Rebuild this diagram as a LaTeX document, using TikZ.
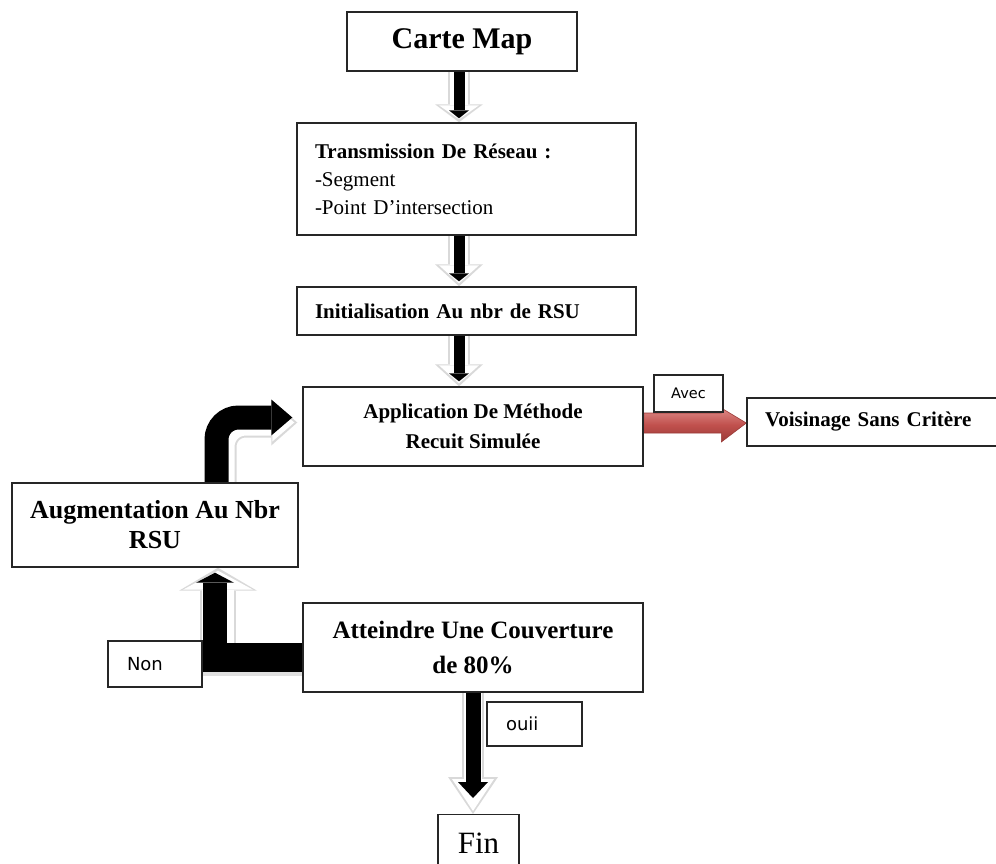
\documentclass[tikz,border=0pt]{standalone}
\usepackage{fontspec}
\setmainfont{Liberation Serif}
\newfontfamily\tahoma{DejaVu Sans}
\usetikzlibrary{arrows.meta,calc,backgrounds}
\definecolor{redL}{HTML}{DE8A87}
\definecolor{redM}{HTML}{C0504D}
\definecolor{redD}{HTML}{9A3A37}
\begin{document}
\begin{tikzpicture}[x=1pt,y=-1pt,
  box/.style={draw=black!85, line width=1.4pt, fill=white, inner sep=0pt},
  gout/.style n args={3}{color=gray!30, line width=#1, -{Triangle[width=#2,length=#3,line width=0pt]}},
  gin/.style n args={3}{color=white, line width=#1, shorten >=3pt, -{Triangle[width=#2,length=#3,line width=0pt]}},
  blk/.style n args={3}{color=black, line width=#1, -{Triangle[width=#2,length=#3,line width=0pt]}},
  redarr/.style={top color=redL, bottom color=redD, middle color=redM, draw=redD, line width=0.6pt},
]
\useasboundingbox (0,0) rectangle (996,863);
\clip (0,0) rectangle (996,863);

% nodes
\node[box, minimum width=230pt, minimum height=59pt, font=\bfseries\fontsize{30}{34}\selectfont] (carte) at (462,41.5) {Carte Map};
\node[box, minimum width=339pt, minimum height=112pt, text width=303pt, align=left, inner xsep=18pt, font=\fontsize{21}{28}\selectfont] (trans) at (466.5,179) {\textbf{Transmission De Réseau :}\\-Segment\\-Point D’intersection};
\node[box, minimum width=339pt, minimum height=48pt, text width=303pt, align=left, inner xsep=18pt, font=\bfseries\fontsize{21}{26}\selectfont] (init) at (466.5,311) {Initialisation Au nbr de RSU};
\node[box, minimum width=340pt, minimum height=79pt, align=center, font=\bfseries\fontsize{21}{30}\selectfont] (app) at (473,426.5) {Application De Méthode\\Recuit Simulée};
\node[box, minimum width=69pt, minimum height=37pt, font=\tahoma\fontsize{14.5}{17}\selectfont] (avec) at (688.5,393.5) {Avec};
\node[box, minimum width=263pt, minimum height=48pt, text width=227pt, align=left, inner xsep=18pt, font=\bfseries\fontsize{21}{26}\selectfont] (vois) at (878.5,422) {Voisinage Sans Critère};
\node[box, minimum width=286pt, minimum height=84pt, align=center, font=\bfseries\fontsize{26}{30}\selectfont] (aug) at (155,525) {Augmentation Au Nbr\\RSU};
\node[box, minimum width=340pt, minimum height=89pt, align=center, font=\bfseries\fontsize{25}{35}\selectfont] (att) at (473,647.5) {Atteindre Une Couverture\\de 80\%};
\node[box, minimum width=94pt, minimum height=46pt, text width=56pt, align=left, inner xsep=19pt, font=\tahoma\fontsize{18}{21}\selectfont] (non) at (155,664) {Non};
\node[box, minimum width=95pt, minimum height=44pt, text width=57pt, align=left, inner xsep=19pt, font=\tahoma\fontsize{18}{21}\selectfont] (oui) at (534.5,724) {ouii};
\node[box, anchor=north, minimum width=81pt, inner ysep=18pt, text height=21pt, text depth=40pt, font=\fontsize{31}{36}\selectfont] (fin) at (478.5,814) {Fin};

\coordinate (ax) at (459,0);
\coordinate (barT) at (0,643);
\coordinate (barB) at (0,672);
\coordinate (barS) at (0,676);
\coordinate (cs) at ([xshift=61.5pt]aug.north);
\coordinate (ce) at ([xshift=-10pt,yshift=9pt]app.west);
\coordinate (upEnd) at ([xshift=60pt,yshift=-5pt]aug.south);

\begin{scope}[on background layer]
  % Carte -> Transmission
  \draw[gout={22pt}{48pt}{18pt}] (carte.south -| ax) -- (trans.north -| ax);
  \draw[gin={18pt}{40pt}{14pt}] (carte.south -| ax) -- (trans.north -| ax);
  \draw[blk={11pt}{20pt}{8pt}] (carte.south -| ax) -- ([yshift=4pt]trans.north -| ax);
  % Transmission -> Initialisation
  \draw[gout={22pt}{48pt}{22pt}] (trans.south -| ax) -- (init.north -| ax);
  \draw[gin={18pt}{40pt}{18pt}] (trans.south -| ax) -- (init.north -| ax);
  \draw[blk={11pt}{20pt}{8pt}] (trans.south -| ax) -- ([yshift=5pt]init.north -| ax);
  % Initialisation -> Application
  \draw[gout={22pt}{48pt}{22pt}] (init.south -| ax) -- (app.north -| ax);
  \draw[gin={18pt}{40pt}{18pt}] (init.south -| ax) -- (app.north -| ax);
  \draw[blk={11pt}{20pt}{8pt}] (init.south -| ax) -- ([yshift=5pt]app.north -| ax);
  % Application -> Voisinage (red)
  \path[redarr] let \p1=(app.east), \p2=(vois.west) in
    (\x1,{\y2+9pt}) -- ({\x2-25pt},{\y2+9pt}) -- ({\x2-25pt},{\y2+14pt}) -- (\x2,{\y2-1pt})
    -- ({\x2-25pt},{\y2-20pt}) -- ({\x2-25pt},{\y2-11pt}) -- (\x1,{\y2-11pt}) -- cycle;
  % Augmentation -> Application (curved)
  \begin{scope}[transform canvas={shift={(5pt,-5pt)}}]
    \draw[gout={30pt}{46pt}{26pt}, rounded corners=24pt] (cs) |- (ce);
    \draw[gin={26pt}{38pt}{22pt}, rounded corners=24pt] (cs) |- (ce);
  \end{scope}
  \draw[blk={24pt}{36pt}{21pt}, rounded corners=22pt] (cs) |- (ce);
  % Atteindre -> Augmentation (Non)
  \fill[gray!25] ([yshift=-3pt]non.east |- barT) rectangle ([xshift=3pt]att.west |- barS);
  \fill[black] (non.east |- barT) rectangle (att.west |- barB);
  \begin{scope}[transform canvas={shift={(3pt,0pt)}}]
    \draw[gout={36pt}{78pt}{23pt}] (upEnd |- barT) -- (aug.south -| upEnd);
    \draw[gin={32pt}{70pt}{19pt}] (upEnd |- barT) -- (aug.south -| upEnd);
  \end{scope}
  \draw[blk={24pt}{38pt}{10pt}] (upEnd |- barB) -- (upEnd);
  % Atteindre -> Fin (ouii)
  \draw[gout={22pt}{50pt}{37pt}] (att.south) -- (fin.north -| att.south);
  \draw[gin={18pt}{42pt}{32pt}] (att.south) -- (fin.north -| att.south);
  \draw[blk={15pt}{30pt}{16pt}] (att.south) -- ([yshift=16pt]fin.north -| att.south);
\end{scope}
\end{tikzpicture}
\end{document}
